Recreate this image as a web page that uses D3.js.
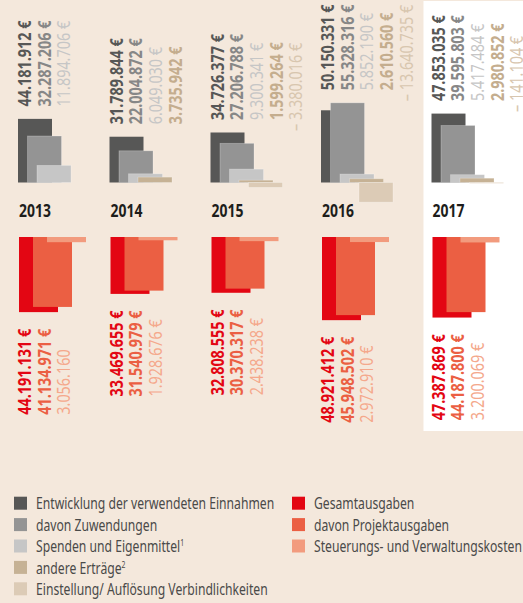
<!DOCTYPE html>
<html>
<head>
<meta charset="utf-8">
<script src="https://cdn.jsdelivr.net/npm/d3@7"></script>
<style>
body { margin: 0; background: #f4e8dc; }
svg { display: block; font-family: "Noto Sans", "Open Sans", sans-serif; }
</style>
</head>
<body>
<svg id="chart" width="523" height="603"></svg>
<script>
const years = ["2013", "2014", "2015", "2016", "2017"];

// Einnahmen (obere Balken)
const einnahmen   = [44181912, 31789844, 34726377, 50150331, 47853035];
const zuwendungen = [32287206, 22004872, 27206788, 55328316, 39595803];
const spenden     = [11894706, 6049030, 9300341, 5852190, 5417484];
const andere      = [null, 3735942, 1599264, 2610560, 2980852];
const einstellung = [null, null, -3380016, -13640735, -141104];

// Ausgaben (untere Balken)
const gesamt    = [44191131, 33469655, 32808555, 48921412, 47387869];
const projekt   = [41134971, 31540979, 30370317, 45948502, 44187800];
const steuerung = [3056160, 1928676, 2438238, 2972910, 3200069];

// in der Vorlage ohne Euro-Zeichen gedruckt
const ohneEuro = ["steuerung-2013"];

const einnahmenSerien = [
    {key: "einnahmen", name: "Entwicklung der verwendeten Einnahmen", values: einnahmen, fill: "#575756", text: "#575756", weight: "bold"},
    {key: "zuwendungen", name: "davon Zuwendungen", values: zuwendungen, fill: "#949494", text: "#878787", weight: "bold"},
    {key: "spenden", name: "Spenden und Eigenmittel", sup: "1", values: spenden, fill: "#c6c6c6", text: "#c6c6c6", weight: "normal"},
    {key: "andere", name: "andere Erträge", sup: "2", values: andere, fill: "#c6b295", text: "#c4ad8e", weight: "bold"},
    {key: "einstellung", name: "Einstellung/ Auflösung Verbindlichkeiten", values: einstellung, fill: "#dccbb6", text: "#d8c6af", weight: "normal"}
];
const ausgabenSerien = [
    {key: "gesamt", name: "Gesamtausgaben", values: gesamt, fill: "#e30613", text: "#e30613", weight: "bold"},
    {key: "projekt", name: "davon Projektausgaben", values: projekt, fill: "#eb5f43", text: "#eb5f43", weight: "bold"},
    {key: "steuerung", name: "Steuerungs- und Verwaltungskosten", values: steuerung, fill: "#f29b7e", text: "#f4a88c", weight: "normal"}
];

const svg = d3.select("#chart");
const width = +svg.attr("width");

const de = d3.formatLocale({decimal: ",", thousands: ".", grouping: [3], currency: ["", " €"]});
const fmt = de.format(",d");

// schmale Schrift nachbilden: Text in Laufrichtung stauchen
const narrow = 0.8;
const labelStep = 19.7;

// Gruppenbreite haengt an der Anzahl der Einnahmen-Balken
const barW = 34, barStep = 9.5, groupGap = 38.5;
const outW = 39, outStep = 14;
const groups = years.map((y, i) => ({
    year: y, i: i,
    n: einnahmenSerien.filter(s => s.values[i] !== null).length
}));
let cx = 18;
groups.forEach(g => { g.x0 = cx; cx += (g.n - 1) * barStep + barW + groupGap; });

const baseIn = 182.5;
const yIn = d3.scaleLinear().domain([0, 60e6]).range([baseIn, baseIn - 60 * 1.44]);
const topOut = 237;
const yOut = d3.scaleLinear().domain([0, 50e6]).range([topOut, topOut + 50 * 1.7]);

// weisses Feld hinter dem letzten Jahr
const last = groups[groups.length - 1];
svg.append("rect")
    .attr("x", last.x0 - 8).attr("y", 1)
    .attr("width", width - (last.x0 - 8)).attr("height", 430)
    .attr("fill", "#ffffff");

function rot(x, y) {
    return "translate(" + x + "," + y + ") rotate(-90) scale(" + narrow + ",1)";
}

function label(g, x, y, txt, s) {
    return g.append("text")
        .attr("transform", rot(x, y))
        .attr("text-anchor", "start")
        .style("font-size", "18px")
        .style("font-weight", s.weight)
        .attr("fill", s.text)
        .text(txt);
}

groups.forEach(g => {
    const grp = svg.append("g").attr("class", "year-" + g.year);

    // Einnahmen
    const ein = einnahmenSerien
        .map((s, j) => ({s: s, j: j, v: s.values[g.i]}))
        .filter(d => d.v !== null);

    grp.selectAll("rect.ein")
        .data(ein)
        .enter()
        .append("rect")
        .attr("class", "ein")
        .attr("x", d => g.x0 + d.j * barStep)
        .attr("y", d => Math.min(yIn(d.v), yIn(0)))
        .attr("width", barW)
        .attr("height", d => Math.max(0.8, Math.abs(yIn(d.v) - yIn(0))))
        .attr("fill", d => d.s.fill)
        .attr("stroke", d => d.j ? "#ffffff" : "none")
        .attr("stroke-opacity", 0.3)
        .attr("stroke-width", 0.8);

    const maxTop = d3.min(ein, d => yIn(Math.max(0, d.v)));
    const labelY = maxTop - 12.5;
    ein.forEach(d => {
        const neg = d.v < 0;
        const lx = g.x0 + 13 + labelStep * d.j;
        const t = label(grp, lx, labelY, (neg ? "– " : "") + fmt(Math.abs(d.v)) + " €", d.s);
        if (neg) {
            const shift = t.node().getSubStringLength(0, 2) * narrow;
            t.attr("transform", rot(lx, labelY + shift));
        }
    });

    // Jahr
    grp.append("text")
        .attr("transform", "translate(" + (g.x0 + 1) + ",217) scale(0.82,1)")
        .style("font-size", "17px")
        .style("font-weight", "bold")
        .attr("fill", "#1d1d1b")
        .text(g.year);

    // Ausgaben
    const aus = ausgabenSerien.map((s, j) => ({s: s, j: j, v: s.values[g.i]}));

    grp.selectAll("rect.aus")
        .data(aus)
        .enter()
        .append("rect")
        .attr("class", "aus")
        .attr("x", d => g.x0 + 1 + d.j * outStep)
        .attr("y", yOut(0))
        .attr("width", outW)
        .attr("height", d => yOut(d.v) - yOut(0))
        .attr("fill", d => d.s.fill);

    const maxBottom = d3.max(aus, d => yOut(d.v));
    const first = label(grp, 0, 0, fmt(aus[0].v) + " €", aus[0].s);
    const len = first.node().getComputedTextLength() * narrow;
    first.remove();
    const startY = maxBottom + 16.7 + len;
    aus.forEach(d => {
        const euro = ohneEuro.indexOf(d.s.key + "-" + g.year) < 0;
        label(grp, g.x0 + 13 + labelStep * d.j, startY, fmt(d.v) + (euro ? " €" : ""), d.s);
    });
});

// Legende
const legTop = 496.7, legStep = 21.4;
function legend(series, x) {
    const items = svg.append("g").selectAll("g")
        .data(series)
        .enter()
        .append("g")
        .attr("transform", (d, i) => "translate(" + x + "," + (legTop + i * legStep) + ")");
    items.append("rect")
        .attr("width", 13).attr("height", 13)
        .attr("fill", d => d.fill);
    const t = items.append("text")
        .attr("transform", "translate(22,12.7) scale(0.76,1)")
        .style("font-size", "16px")
        .attr("fill", "#4a4a49")
        .text(d => d.name);
    t.filter(d => d.sup)
        .append("tspan")
        .attr("dy", -6)
        .style("font-size", "9px")
        .text(d => d.sup);
}
legend(einnahmenSerien, 14);
legend(ausgabenSerien, 292);
</script>
</body>
</html>
